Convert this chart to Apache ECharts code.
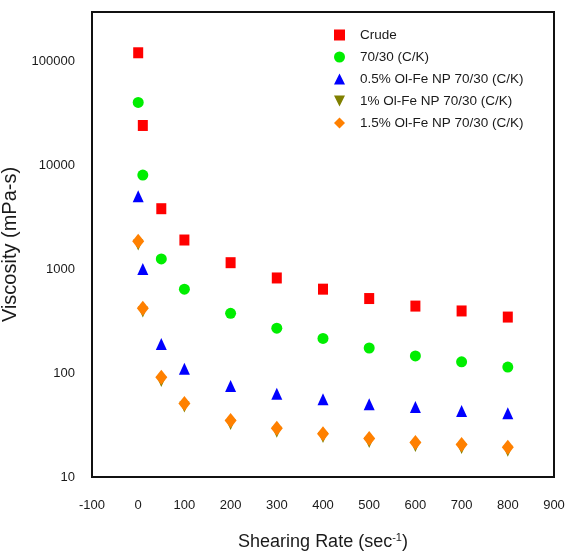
<!DOCTYPE html>
<html>
<head>
<meta charset="utf-8">
<script src="https://cdn.jsdelivr.net/npm/echarts@6/dist/echarts.min.js"></script>
<style>
  html, body { margin: 0; padding: 0; background: #fff; }
  #chart { width: 567px; height: 551px; }
</style>
</head>
<body>
<div id="chart"></div>
<script>
// shearing rate (sec-1)
var shearRate = [0, 10, 50, 100, 200, 300, 400, 500, 600, 700, 800];

// viscosity (mPa-s)
var crude = [120000, 24000, 3800, 1900, 1150, 820, 640, 520, 440, 395, 345];
var blend7030 = [40000, 8000, 1250, 640, 375, 270, 215, 174, 146, 128, 114];
var np05 = [5000, 1000, 190, 110, 75, 63, 56, 50, 47, 43, 41];
var np1 = [1700, 385, 83, 47, 32, 27, 24, 21.5, 19.7, 18.8, 17.7];
var np15 = [1850, 420, 91, 51, 35, 29.5, 26, 23.5, 21.5, 20.5, 19.3];

var seriesNames = [
  'Crude',
  '70/30 (C/K)',
  '0.5% Ol-Fe NP 70/30 (C/K)',
  '1% Ol-Fe NP 70/30 (C/K)',
  '1.5% Ol-Fe NP 70/30 (C/K)'
];

function pairs(ys) {
  return shearRate.map(function (x, i) { return [x, ys[i]]; });
}

var downTriangle = 'path://M0,0 L10,0 L5,10 Z';

var chart = echarts.init(document.getElementById('chart'), null, { renderer: 'canvas' });

chart.setOption({
  backgroundColor: '#fff',
  animation: false,
  textStyle: { fontFamily: 'Liberation Sans, Arial, sans-serif' },
  grid: {
    left: 92,
    top: 12,
    right: 13,
    bottom: 74,
    outerBoundsMode: 'none',
    containLabel: false,
    show: true,
    borderColor: '#111',
    borderWidth: 2,
    backgroundColor: 'transparent'
  },
  legend: {
    orient: 'vertical',
    left: 329,
    top: 23,
    itemWidth: 11,
    itemHeight: 11,
    itemGap: 8,
    textStyle: { fontSize: 13.5, color: '#1a1a1a', lineHeight: 14, padding: [0, 0, 0, 10] },
    data: seriesNames
  },
  xAxis: {
    type: 'value',
    min: -100,
    max: 900,
    interval: 100,
    axisLine: { show: false },
    axisTick: { show: false },
    splitLine: { show: false },
    axisLabel: { fontSize: 13, color: '#1a1a1a', margin: 22 },
    name: 'Shearing Rate (sec{sup|-1})',
    nameLocation: 'middle',
    nameGap: 55,
    nameTextStyle: {
      fontSize: 18,
      color: '#1a1a1a',
      rich: {
        sup: { fontSize: 11, color: '#1a1a1a', padding: [0, 0, 9, 0] }
      }
    }
  },
  yAxis: {
    type: 'log',
    logBase: 10,
    min: 10,
    max: 296000,
    axisLine: { show: false },
    axisTick: { show: false },
    splitLine: { show: false },
    axisLabel: {
      fontSize: 13,
      color: '#1a1a1a',
      margin: 17,
      showMaxLabel: false,
      formatter: function (v) { return String(Math.round(v)); }
    },
    name: 'Viscosity (mPa-s)',
    nameLocation: 'middle',
    nameGap: 67,
    nameTextStyle: { fontSize: 20, color: '#1a1a1a' }
  },
  series: [
    {
      name: seriesNames[0],
      type: 'scatter',
      symbol: 'rect',
      symbolSize: [10, 11],
      itemStyle: { color: '#ff0000', opacity: 1 },
      data: pairs(crude)
    },
    {
      name: seriesNames[1],
      type: 'scatter',
      symbol: 'circle',
      symbolSize: 11,
      itemStyle: { color: '#00ee00', opacity: 1 },
      data: pairs(blend7030)
    },
    {
      name: seriesNames[2],
      type: 'scatter',
      symbol: 'triangle',
      symbolSize: [11, 12],
      itemStyle: { color: '#0000ff', opacity: 1 },
      data: pairs(np05)
    },
    {
      name: seriesNames[3],
      type: 'scatter',
      symbol: downTriangle,
      symbolSize: [10, 11],
      itemStyle: { color: '#808000', opacity: 1 },
      data: pairs(np1)
    },
    {
      name: seriesNames[4],
      type: 'scatter',
      symbol: 'diamond',
      symbolSize: [12, 15],
      itemStyle: { color: '#ff8000', opacity: 1 },
      data: pairs(np15)
    }
  ]
});
</script>
</body>
</html>
